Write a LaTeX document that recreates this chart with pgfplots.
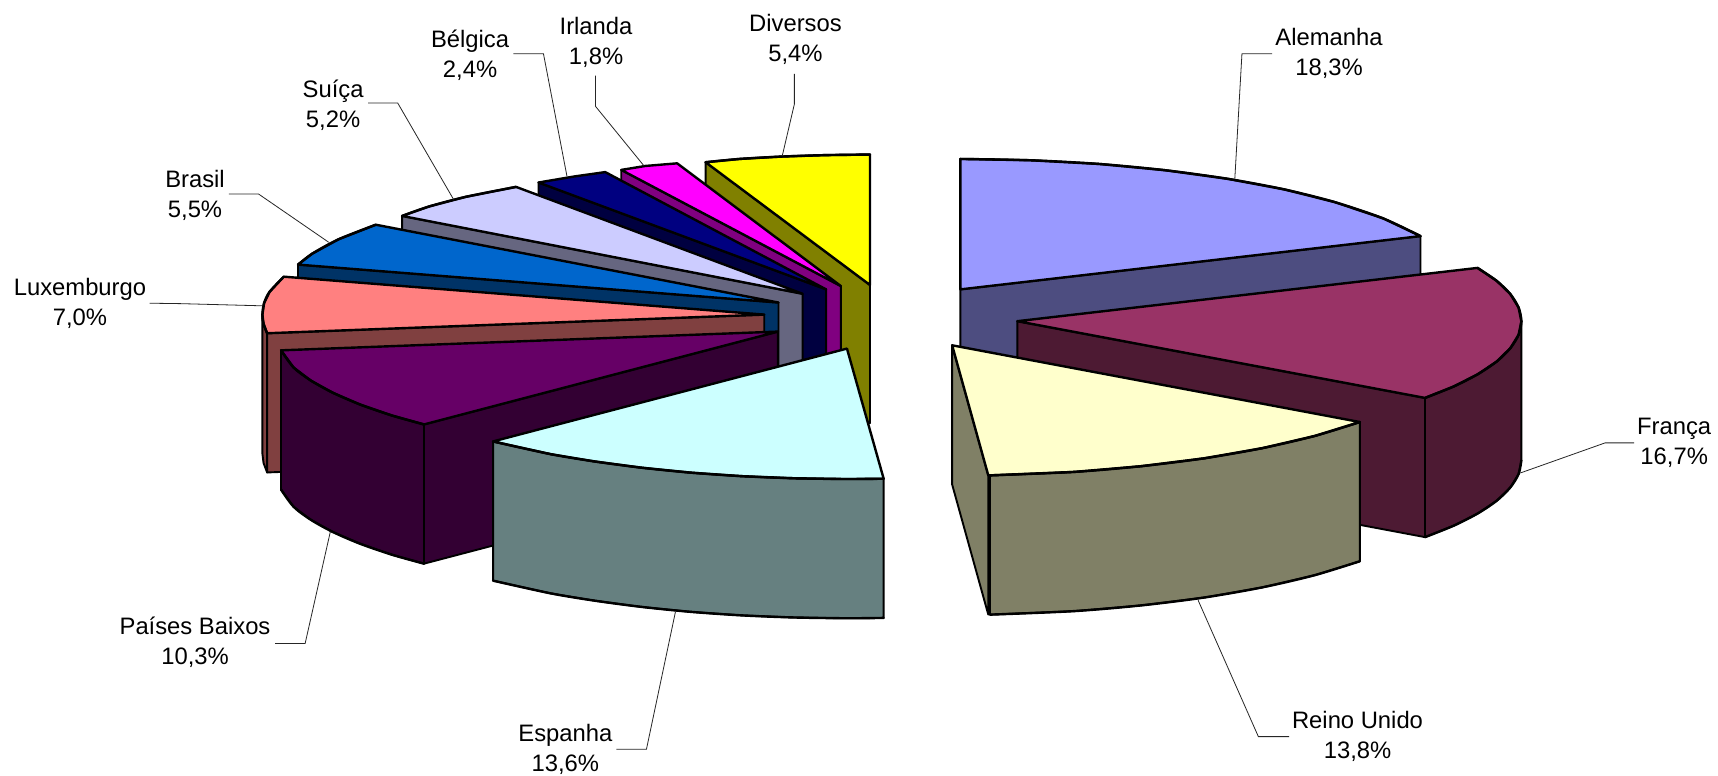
\documentclass[border=0pt]{standalone}
\usepackage{fontspec}
\setmainfont{Liberation Sans}
\usepackage{pgfplots}
\pgfplotsset{compat=1.18}

% slices are painted back to front, coordinates read off the picture
\definecolor{alem}{HTML}{9999FF}\definecolor{alemd}{HTML}{4D4D80}
\definecolor{fran}{HTML}{993366}\definecolor{frand}{HTML}{4D1A33}
\definecolor{rein}{HTML}{FFFFCC}\definecolor{reind}{HTML}{808066}
\definecolor{espa}{HTML}{CCFFFF}\definecolor{espad}{HTML}{668080}
\definecolor{paib}{HTML}{660066}\definecolor{paibd}{HTML}{330033}
\definecolor{luxe}{HTML}{FF8080}\definecolor{luxed}{HTML}{804040}
\definecolor{bras}{HTML}{0066CC}\definecolor{brasd}{HTML}{003366}
\definecolor{suic}{HTML}{CCCCFF}\definecolor{suicd}{HTML}{666680}
\definecolor{belg}{HTML}{000080}\definecolor{belgd}{HTML}{000040}
\definecolor{irla}{HTML}{FF00FF}\definecolor{irlad}{HTML}{800080}
\definecolor{dive}{HTML}{FFFF00}\definecolor{dived}{HTML}{808000}

\tikzset{
  top/.style={fill=#1,draw=black,line width=2.4pt,line join=round},
  wall/.style={fill=#1,draw=black,line width=1.9pt,line join=round},
  arc/.style={draw=black,line width=2.4pt,smooth,line cap=round},
  leader/.style={draw=black!85,line width=0.8pt},
  lab/.style={align=center,inner sep=0pt,font=\fontsize{23.8}{30}\selectfont},
}

\begin{document}
\begin{tikzpicture}
\begin{axis}[width=1718pt,height=775pt,scale only axis,
  xmin=0,xmax=1568,ymin=0,ymax=707,y dir=reverse,hide axis,clip=false]

\addplot[fill=white,draw=none] coordinates {(0,0)(1568,0)(1568,707)(0,707)} -- cycle;

% Alemanha
\addplot[wall=alemd] coordinates {(876.5,264)(1296.5,215.4)(1296.5,341.4)(876.5,390)} -- cycle;
\addplot[top=alem] coordinates {(876.5,264)(876.5,145)(940.5,146.2)(1003.5,149.6)(1063.5,155.3)(1120.3,163.1)(1172.2,172.8)(1218.3,184.4)(1262.3,199.2)(1296.5,215.4)} -- cycle;
\addplot[arc] coordinates {(876.5,145)(940.5,146.2)(1003.5,149.6)(1063.5,155.3)(1120.3,163.1)(1172.2,172.8)(1218.3,184.4)(1262.3,199.2)(1296.5,215.4)};

% Franca
\addplot[wall=frand] coordinates {(1388.5,293)(1386,305.4)(1378.4,317.7)(1366,329.8)(1348.7,341.4)(1326.9,352.5)(1300.6,363)(1300.6,490)(1326.9,479.5)(1348.7,468.4)(1366,456.8)(1378.4,444.7)(1386,432.4)(1388.5,420)} -- cycle;
\addplot[arc] coordinates {(1388.5,420)(1386,432.4)(1378.4,444.7)(1366,456.8)(1348.7,468.4)(1326.9,479.5)(1300.6,490)};
\addplot[wall=frand] coordinates {(928.5,293)(1300.6,363)(1300.6,490)(928.5,420)} -- cycle;
\addplot[top=fran] coordinates {(928.5,293)(1348.5,244.4)(1366,256.2)(1378.4,268.2)(1386,280.6)(1388.5,293)(1386,305.4)(1378.4,317.7)(1366,329.8)(1348.7,341.4)(1326.9,352.5)(1300.6,363)} -- cycle;
\addplot[arc] coordinates {(1348.5,244.4)(1366,256.2)(1378.4,268.2)(1386,280.6)(1388.5,293)(1386,305.4)(1378.4,317.7)(1366,329.8)(1348.7,341.4)(1326.9,352.5)(1300.6,363)};

% Reino Unido
\addplot[wall=reind] coordinates {(1241.1,385)(1199.9,397.7)(1152.2,408.8)(1099,418.1)(1041.3,425.3)(980.3,430.5)(903.5,433.7)(903.5,560.7)(980.3,557.5)(1041.3,552.3)(1099,545.1)(1152.2,535.8)(1199.9,524.7)(1241.1,512)} -- cycle;
\addplot[arc] coordinates {(903.5,560.7)(980.3,557.5)(1041.3,552.3)(1099,545.1)(1152.2,535.8)(1199.9,524.7)(1241.1,512)};
\addplot[wall=reind] coordinates {(869,315)(902,433.7)(902,560.7)(869,442)} -- cycle;
\addplot[top=rein] coordinates {(869,315)(1241.1,385)(1199.9,397.7)(1152.2,408.8)(1099,418.1)(1041.3,425.3)(980.3,430.5)(902,433.7)} -- cycle;
\addplot[arc] coordinates {(1241.1,385)(1199.9,397.7)(1152.2,408.8)(1099,418.1)(1041.3,425.3)(980.3,430.5)(902,433.7)};

% Diversos
\addplot[wall=dived] coordinates {(644,148)(644,274)(794,386)(794,260)} -- cycle;
\addplot[top=dive] coordinates {(794,260)(644,148)(675,145)(714,142.8)(754,141.5)(794,141)} -- cycle;
\addplot[arc] coordinates {(644,148)(675,145)(714,142.8)(754,141.5)(794,141)};

% Irlanda
\addplot[wall=irlad] coordinates {(567,155)(567,281)(767.5,388)(767.5,261)} -- cycle;
\addplot[top=irla] coordinates {(767.5,261)(567,155)(589,151.4)(618,149)} -- cycle;

% Belgica
\addplot[wall=belgd] coordinates {(491.5,166.5)(491.5,292)(754,391)(754,264)} -- cycle;
\addplot[top=belg] coordinates {(754,264)(491.5,166.5)(524,161)(552.4,157)} -- cycle;

% Suica
\addplot[wall=suicd] coordinates {(367,197)(367,324)(732.5,395)(732.5,268)} -- cycle;
\addplot[top=suic] coordinates {(732.5,268)(367,197)(391.5,188.4)(425,179.6)(471,170.5)} -- cycle;
\addplot[arc] coordinates {(367,197)(391.5,188.4)(425,179.6)(471,170.5)};

% Brasil
\addplot[wall=brasd] coordinates {(272,241.4)(272,368)(710.5,403)(710.5,276)} -- cycle;
\addplot[top=bras] coordinates {(710.5,276)(272,241.4)(285,231.4)(309,218.3)(343,205)} -- cycle;
\addplot[arc] coordinates {(272,241.4)(285,231.4)(309,218.3)(343,205)};

% Luxemburgo
\addplot[wall=luxed] coordinates {(243.8,304)(240.5,295.3)(239.5,287)(239.5,414)(240.5,422.3)(243.8,431)} -- cycle;
\addplot[wall=luxed] coordinates {(697.5,287)(243.8,304)(243.8,431)(697.5,414)} -- cycle;
\addplot[top=luxe] coordinates {(697.5,287)(243.8,304)(240.5,295.3)(239.5,287)(241,276.6)(246,266.3)(259,252.4)} -- cycle;
\addplot[arc] coordinates {(243.8,304)(240.5,295.3)(239.5,287)(241,276.6)(246,266.3)(259,252.4)};

% Paises Baixos
\addplot[wall=paibd] coordinates {(256.5,319.6)(268,335.3)(283.6,347.1)(303.8,358.3)(328.6,369)(357.6,379)(387,387.2)(387,514.2)(357.6,506)(328.6,496)(303.8,485.3)(283.6,474.1)(268,462.3)(256.5,446.6)} -- cycle;
\addplot[arc] coordinates {(387,514.2)(357.6,506)(328.6,496)(303.8,485.3)(283.6,474.1)(268,462.3)(256.5,446.6)};
\addplot[wall=paibd] coordinates {(710,302.5)(387,387.2)(387,514.2)(710,429.5)} -- cycle;
\addplot[top=paib] coordinates {(710,302.5)(256.5,319.6)(268,335.3)(283.6,347.1)(303.8,358.3)(328.6,369)(357.6,379)(387,387.2)} -- cycle;
\addplot[arc] coordinates {(256.5,319.6)(268,335.3)(283.6,347.1)(303.8,358.3)(328.6,369)(357.6,379)(387,387.2)};

% Espanha
\addplot[wall=espad] coordinates {(450,402.7)(502.6,414.3)(543,421)(586,426.7)(630.9,431.2)(677.4,434.4)(725,436.3)(773,437)(806.5,436.7)(806.5,563.7)(773,564)(725,563.3)(677.4,561.4)(630.9,558.2)(586,553.7)(543,548)(502.6,541.3)(450,529.7)} -- cycle;
\addplot[arc] coordinates {(806.5,563.7)(773,564)(725,563.3)(677.4,561.4)(630.9,558.2)(586,553.7)(543,548)(502.6,541.3)(450,529.7)};
\addplot[top=espa] coordinates {(773,318)(450,402.7)(502.6,414.3)(543,421)(586,426.7)(630.9,431.2)(677.4,434.4)(725,436.3)(773,437)(806.5,436.7)} -- cycle;
\addplot[arc] coordinates {(450,402.7)(502.6,414.3)(543,421)(586,426.7)(630.9,431.2)(677.4,434.4)(725,436.3)(773,437)(806.5,436.7)};

% leader lines
\addplot[leader] coordinates {(1161,49)(1133.5,49)(1127,163)};
\addplot[leader] coordinates {(1491.5,404)(1465,404)(1387.5,431.5)};
\addplot[leader] coordinates {(1176.5,672)(1148.5,672)(1093.5,547.6)};
\addplot[leader] coordinates {(562.5,683.5)(590,683.5)(616.5,558)};
\addplot[leader] coordinates {(251,587)(278.5,587)(301.5,485)};
\addplot[leader] coordinates {(136.5,276.6)(165,277)(240,279)};
\addplot[leader] coordinates {(209,177)(236,177)(300,221)};
\addplot[leader] coordinates {(336,94)(363,94)(414,182)};
\addplot[leader] coordinates {(468.5,49)(496,49)(517.5,161)};
\addplot[leader] coordinates {(543.5,69)(543.5,97)(587.5,151)};
\addplot[leader] coordinates {(725,67.5)(725,95)(714,142)};

% labels
\node[lab] at (axis cs:1213,49) {Alemanha\\18,3\%};
\node[lab] at (axis cs:1528,404) {França\\16,7\%};
\node[lab] at (axis cs:1239,672) {Reino Unido\\13,8\%};
\node[lab] at (axis cs:516,684) {Espanha\\13,6\%};
\node[lab] at (axis cs:178,586) {Países Baixos\\10,3\%};
\node[lab] at (axis cs:73,277) {Luxemburgo\\7,0\%};
\node[lab] at (axis cs:178,178) {Brasil\\5,5\%};
\node[lab] at (axis cs:304,96) {Suíça\\5,2\%};
\node[lab] at (axis cs:429,50) {Bélgica\\2,4\%};
\node[lab] at (axis cs:544,39) {Irlanda\\1,8\%};
\node[lab] at (axis cs:726,36) {Diversos\\5,4\%};
\end{axis}
\end{tikzpicture}
\end{document}
